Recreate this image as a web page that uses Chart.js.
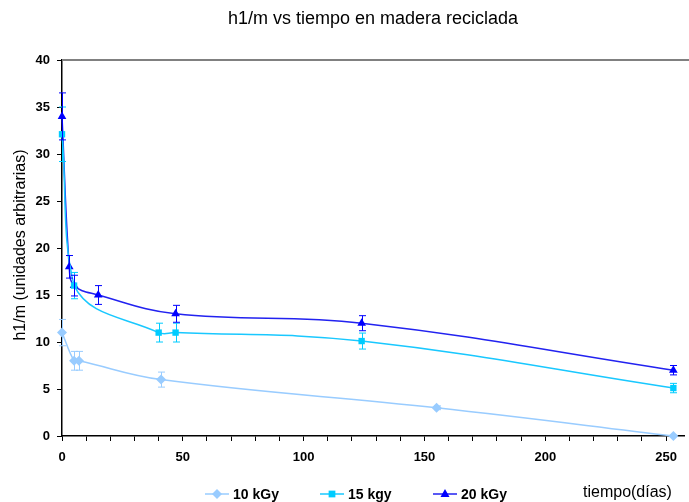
<!DOCTYPE html>
<html>
<head>
<meta charset="utf-8">
<script src="https://cdn.jsdelivr.net/npm/chart.js@4.4.1/dist/chart.umd.min.js"></script>
<style>
  body { margin: 0; background: #fff; }
  #wrap { width: 689px; height: 502px; }
</style>
</head>
<body>
<div id="wrap"><canvas id="grafico" width="689" height="502"></canvas></div>
<script>
// datos
var series = ['10 kGy', '15 kgy', '20 kGy'];
var dias10 = [0, 5, 7, 41, 155, 253];
var val10 = [11, 8, 8, 6, 3, 0];
var err10 = [1.4, 1, 1, 0.8, 0.2, 0];
var dias15 = [0, 5, 40, 47, 124, 253];
var val15 = [32.1, 16, 11, 11, 10.1, 5.1];
var err15 = [2.9, 1.4, 1, 1, 0.85, 0.5];
var dias20 = [0, 3, 5, 15, 47, 124, 253];
var val20 = [34, 18, 16, 15, 13, 12, 7];
var err20 = [2.5, 1.2, 1.1, 1, 0.9, 0.8, 0.5];
var xTicks = [0, 50, 100, 150, 200, 250];
var yTicks = [0, 5, 10, 15, 20, 25, 30, 35, 40];

var colores = ['#99CCFF', '#00CCFF', '#0000FF'];
var lineas = ['#99CCFF', '#19C8FF', '#2222F0'];
var marcas = ['rectRot', 'rect', 'triangle'];
var radios = [5, 4.5, 5];

function puntos(xs, ys) {
  return xs.map(function(x, i) { return { x: x, y: ys[i] }; });
}

var errores = [err10, err15, err20];

function marca(ctx, tipo, x, y, r) {
  ctx.beginPath();
  if (tipo === 'rectRot') {
    ctx.moveTo(x, y - r); ctx.lineTo(x + r, y); ctx.lineTo(x, y + r); ctx.lineTo(x - r, y);
  } else if (tipo === 'rect') {
    var s = r * 0.75;
    ctx.rect(x - s, y - s, 2 * s, 2 * s);
  } else {
    ctx.moveTo(x, y - r); ctx.lineTo(x + r * 0.9, y + r * 0.6); ctx.lineTo(x - r * 0.9, y + r * 0.6);
  }
  ctx.closePath();
  ctx.fill();
}

var extras = {
  id: 'extras',
  afterDatasetsDraw: function(chart) {
    var ctx = chart.ctx;
    var xs = chart.scales.x, ys = chart.scales.y;
    ctx.save();
    // barras de error
    chart.data.datasets.forEach(function(ds, d) {
      ctx.strokeStyle = colores[d];
      ctx.lineWidth = 1;
      ds.data.forEach(function(p, i) {
        var e = errores[d][i];
        if (!e) return;
        var px = Math.round(xs.getPixelForValue(p.x)) + 0.5;
        var top = ys.getPixelForValue(p.y + e);
        var bot = ys.getPixelForValue(Math.max(p.y - e, 0));
        ctx.beginPath();
        ctx.moveTo(px, top); ctx.lineTo(px, bot);
        ctx.moveTo(px - 3.5, top); ctx.lineTo(px + 3.5, top);
        if (p.y - e > 0) { ctx.moveTo(px - 3.5, bot); ctx.lineTo(px + 3.5, bot); }
        ctx.stroke();
      });
    });
    ctx.restore();
  },
  afterDraw: function(chart) {
    var ctx = chart.ctx;
    var area = chart.chartArea;
    ctx.save();
    // borde superior gris
    ctx.strokeStyle = '#808080';
    ctx.lineWidth = 2;
    ctx.beginPath();
    ctx.moveTo(area.left, area.top);
    ctx.lineTo(chart.width, area.top);
    ctx.stroke();

    ctx.fillStyle = '#000';
    ctx.textBaseline = 'alphabetic';
    ctx.textAlign = 'center';
    ctx.font = '18px "Liberation Sans", Arial, sans-serif';
    ctx.fillText('h1/m vs tiempo en madera reciclada', (area.left + area.right) / 2, 24);

    ctx.font = '16px "Liberation Sans", Arial, sans-serif';
    ctx.textAlign = 'left';
    ctx.fillText('tiempo(días)', 583, 497);

    ctx.save();
    ctx.translate(25, (area.top + area.bottom) / 2 - 3);
    ctx.rotate(-Math.PI / 2);
    ctx.textAlign = 'center';
    ctx.fillText('h1/m (unidades arbitrarias)', 0, 0);
    ctx.restore();

    // leyenda
    var lx = [205, 320, 433];
    ctx.font = 'bold 14px "Liberation Sans", Arial, sans-serif';
    ctx.textAlign = 'left';
    ctx.textBaseline = 'middle';
    series.forEach(function(nombre, d) {
      var y = 494;
      ctx.strokeStyle = lineas[d];
      ctx.lineWidth = 1.5;
      ctx.beginPath();
      ctx.moveTo(lx[d], y); ctx.lineTo(lx[d] + 24, y);
      ctx.stroke();
      ctx.fillStyle = colores[d];
      marca(ctx, marcas[d], lx[d] + 12, y, radios[d]);
      ctx.fillStyle = '#000';
      ctx.fillText(nombre, lx[d] + 28, y + 1);
    });
    ctx.restore();
  }
};

var datos = [puntos(dias10, val10), puntos(dias15, val15), puntos(dias20, val20)];

var grafico = new Chart(document.getElementById('grafico'), {
  type: 'line',
  data: {
    datasets: series.map(function(nombre, d) {
      return {
        label: nombre,
        data: datos[d],
        borderColor: lineas[d],
        backgroundColor: colores[d],
        pointBackgroundColor: colores[d],
        pointBorderColor: colores[d],
        pointBorderWidth: 0,
        pointStyle: marcas[d],
        pointRadius: radios[d],
        borderWidth: 1.5,
        tension: 0.4,
        fill: false,
        clip: false
      };
    })
  },
  options: {
    responsive: false,
    animation: false,
    layout: { padding: { top: 60, right: 1, left: 0, bottom: 0 } },
    plugins: {
      legend: { display: false },
      title: { display: false },
      tooltip: { enabled: false }
    },
    scales: {
      x: {
        type: 'linear',
        min: 0,
        max: 257.4,
        afterFit: function(s) { s.height = 66; },
        afterBuildTicks: function(s) {
          var t = [];
          for (var v = 0; v <= 250; v += 10) t.push({ value: v });
          s.ticks = t;
        },
        border: { color: '#000', width: 1.5 },
        grid: { drawOnChartArea: false, drawTicks: true, tickLength: 5, color: '#000' },
        ticks: {
          padding: 9,
          maxRotation: 0,
          autoSkip: false,
          color: '#000',
          font: { family: '"Liberation Sans", Arial, sans-serif', size: 13, weight: 'bold' },
          callback: function(v) { return xTicks.indexOf(v) >= 0 ? v : ''; }
        }
      },
      y: {
        min: 0,
        max: 40,
        afterFit: function(s) { s.width = 62; },
        afterBuildTicks: function(s) {
          s.ticks = yTicks.map(function(v) { return { value: v }; });
        },
        border: { color: '#000', width: 1.5 },
        grid: { drawOnChartArea: false, drawTicks: true, tickLength: 5, color: '#000' },
        ticks: {
          padding: 7,
          color: '#000',
          font: { family: '"Liberation Sans", Arial, sans-serif', size: 13, weight: 'bold' }
        }
      }
    }
  },
  plugins: [extras]
});
</script>
</body>
</html>
